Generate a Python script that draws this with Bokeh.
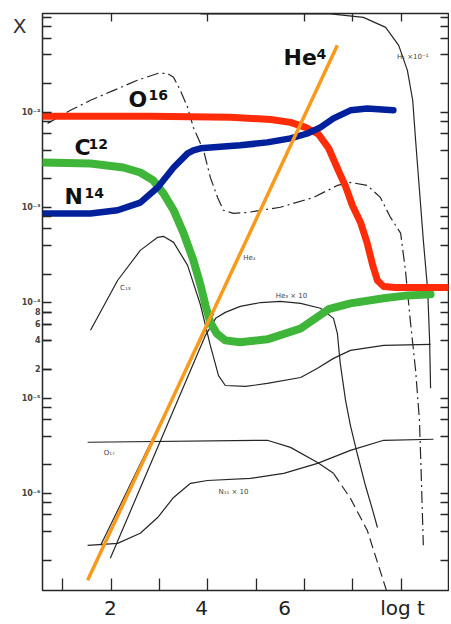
from bokeh.plotting import figure
from bokeh.models import FixedTicker, LogAxis, LinearAxis, Label
from bokeh.embed import file_html
from bokeh.resources import INLINE

# ---- data: log t  and  mass fraction X ----
o16_t = [0.58, 2.81, 4.47, 5.30, 5.71, 6.02, 6.29, 6.50, 6.70, 6.85, 6.99, 7.16, 7.30, 7.41, 7.51, 7.64, 7.88, 8.96]
o16_x = [9.1e-3, 9.1e-3, 8.9e-3, 8.4e-3, 7.85e-3, 6.95e-3, 5.9e-3, 4.2e-3, 2.46e-3, 1.67e-3, 1.06e-3, 7.0e-4,
         4.2e-4, 2.5e-4, 1.72e-4, 1.49e-4, 1.45e-4, 1.45e-4]

c12_t = [0.58, 1.57, 2.25, 2.60, 2.87, 3.08, 3.29, 3.49, 3.70, 3.85, 3.95, 4.05, 4.18, 4.36, 4.67, 5.23, 5.92,
         6.23, 6.50, 6.95, 7.64, 8.13, 8.61]
c12_x = [2.98e-3, 2.91e-3, 2.64e-3, 2.34e-3, 1.93e-3, 1.41e-3, 9.4e-4, 5.5e-4, 2.8e-4, 1.52e-4, 9.4e-5, 6.25e-5,
         4.8e-5, 4.05e-5, 3.86e-5, 4.15e-5, 5.4e-5, 6.9e-5, 8.6e-5, 9.9e-5, 1.12e-4, 1.20e-4, 1.23e-4]

n14_t = [0.58, 1.57, 2.13, 2.60, 2.96, 3.29, 3.58, 3.70, 3.85, 4.67, 5.23, 5.71, 6.06, 6.33, 6.60, 6.95, 7.30, 7.84]
n14_x = [8.7e-4, 8.7e-4, 9.4e-4, 1.13e-3, 1.63e-3, 2.64e-3, 3.71e-3, 3.99e-3, 4.19e-3, 4.51e-3, 4.84e-3, 5.33e-3,
         6.0e-3, 6.95e-3, 8.65e-3, 1.05e-2, 1.10e-2, 1.05e-2]

he4_t = [1.51, 6.68]
he4_x = [1.23e-7, 0.0505]

# thin curves of the original figure
h1_t = [3.85, 6.54, 7.22, 7.68, 7.95, 8.13, 8.24, 8.30, 8.38, 8.46, 8.55, 8.59, 8.61]
h1_x = [0.108, 0.108, 0.0993, 0.078, 0.0505, 0.0276, 0.0134, 5.1e-3, 1.52e-3, 4.54e-4, 1.36e-4, 4.05e-5, 1.27e-5]

f_t = [0.68, 1.155, 1.57, 2.05, 2.54, 2.96, 3.16, 3.29, 3.43, 3.58, 3.70, 3.91, 4.05, 4.20, 4.32, 4.53, 4.82,
       5.50, 6.19, 6.68, 6.95, 7.30, 7.57, 7.78, 7.99, 8.09, 8.19, 8.30, 8.38, 8.42, 8.46]
f_x = [7.66e-3, 1.05e-2, 1.34e-2, 1.70e-2, 2.17e-2, 2.56e-2, 2.56e-2, 2.33e-2, 1.70e-2, 1.13e-2, 6.95e-3, 3.99e-3,
       2.08e-3, 1.28e-3, 9.4e-4, 8.7e-4, 8.9e-4, 1.01e-3, 1.28e-3, 1.71e-3, 1.84e-3, 1.71e-3, 1.28e-3, 7.9e-4,
       5.4e-4, 2.19e-4, 6.56e-5, 1.96e-5, 5.86e-6, 1.37e-6, 2.86e-7]

he3_t = [1.98, 3.95, 4.16, 4.36, 4.67, 5.09, 5.50, 5.92, 6.33, 6.60, 6.68, 6.74, 6.85, 6.95, 7.10, 7.26, 7.41, 7.51]
he3_x = [2.09e-7, 4.57e-5, 6.89e-5, 7.96e-5, 9.2e-5, 1.01e-4, 1.04e-4, 9.9e-5, 8.8e-5, 6.89e-5, 4.80e-5, 2.32e-5,
         9.5e-6, 5.2e-6, 2.52e-6, 1.22e-6, 6.7e-7, 4.4e-7]

c13_t = [1.57, 2.13, 2.60, 2.96, 3.08, 3.29, 3.58, 3.85, 4.05, 4.22, 4.36, 4.78, 5.23, 5.92, 6.27, 6.60, 6.95, 7.64, 8.61]
c13_x = [5.16e-5, 1.72e-4, 3.56e-4, 4.88e-4, 5.0e-4, 4.32e-4, 2.48e-4, 9.4e-5, 3.59e-5, 1.73e-5, 1.36e-5, 1.33e-5,
         1.43e-5, 1.65e-5, 2.06e-5, 2.62e-5, 3.18e-5, 3.59e-5, 3.68e-5]

o17_t = [1.51, 5.23, 5.71, 6.27, 6.60]
o17_x = [3.45e-6, 3.62e-6, 3.05e-6, 2.12e-6, 1.63e-6]
o17d_t = [6.60, 6.95, 7.30, 7.72]
o17d_x = [1.63e-6, 8.9e-7, 4.1e-7, 8.8e-8]

n15_t = [1.51, 2.13, 2.60, 2.96, 3.29, 3.64, 3.99, 4.88, 5.57, 6.27, 6.95, 7.64, 8.67]
n15_x = [2.86e-7, 3.0e-7, 3.83e-7, 5.6e-7, 9.1e-7, 1.28e-6, 1.37e-6, 1.44e-6, 1.63e-6, 2.07e-6, 2.84e-6, 3.62e-6, 3.71e-6]

he4b_t = [1.78, 4.12]
he4b_x = [2.86e-7, 7.77e-5]

# ticks and labels
x_ticks = [1, 2, 3, 4, 5, 6, 7, 8]
x_top_ticks = [2, 4, 6, 7, 8]
x_label_pos = [1.98, 3.87, 5.59, 8.03]
x_label_text = ["2", "4", "6", "log t"]
y_major = [1e-6, 1e-5, 1e-4, 1e-3, 1e-2]
y_major_text = ["10\u207b\u2076", "10\u207b\u2075", "10\u207b\u2074", "10\u207b\u00b3", "10\u207b\u00b2"]
y_minor = [m * d for d in [1e-7, 1e-6, 1e-5, 1e-4, 1e-3, 1e-2] for m in (2, 4, 6, 8)] + [1e-1]
y_small_vals = [8e-5, 6e-5, 4e-5, 2e-5]
y_small_text = ["8", "6", "4", "2"]
axis_name = "X"
axis_name_y = 0.081

# labels
big_text = ["He", "O", "C", "N"]
big_t = [5.565, 2.356, 1.238, 1.031]
big_x = [0.0378, 0.01369, 4.24e-3, 1.298e-3]
sup_text = ["4", "16", "12", "14"]
sup_t = [6.25, 2.77, 1.53, 1.445]
sup_x = [0.0406, 0.01508, 4.67e-3, 1.413e-3]
small_text = ["H\u2081 \u00d710\u207b\u00b9", "He\u2084", "C\u2081\u2083", "He\u2083 \u00d7 10", "O\u2081\u2087", "N\u2081\u2085 \u00d7 10"]
small_t = [8.24, 4.86, 2.29, 5.73, 1.96, 4.53]
small_x = [0.0378, 2.94e-4, 1.42e-4, 1.17e-4, 2.64e-6, 1.05e-6]

INK = "#262626"

p = figure(width=449, height=624, x_range=(0.576, 8.981), y_range=(9.6e-8, 0.109),
           y_axis_type="log", output_backend="svg", toolbar_location=None,
           min_border_left=42, min_border_right=1, min_border_top=13, min_border_bottom=34)
p.xgrid.visible = False
p.ygrid.visible = False
p.outline_line_color = INK
p.outline_line_width = 1.5
p.background_fill_color = "white"
p.border_fill_color = "white"

# bottom axis: integer tick marks inward, labels at their printed places
xa = p.below[0]
xa.ticker = FixedTicker(ticks=x_label_pos, minor_ticks=x_ticks)
xa.major_label_overrides = dict(zip(x_label_pos, x_label_text))
xa.major_label_text_font = "DejaVu Sans"
xa.major_label_text_font_size = "20px"
xa.major_label_text_color = "#222222"
xa.major_label_standoff = 5
xa.major_tick_in = 0
xa.major_tick_out = 0
xa.minor_tick_in = 12
xa.minor_tick_out = 0
xa.axis_line_color = None
xa.minor_tick_line_color = INK
xa.minor_tick_line_width = 1.3

# left axis
left_ticks = y_major + y_small_vals
left_text = y_major_text + y_small_text
ya = p.left[0]
ya.ticker = FixedTicker(ticks=left_ticks, minor_ticks=y_minor)
ya.major_label_overrides = dict(zip(left_ticks, left_text))
ya.major_label_text_font = "DejaVu Sans"
ya.major_label_text_font_size = "8px"
ya.major_label_text_font_style = "bold"
ya.major_label_text_color = "#444444"
ya.major_label_standoff = 2
ya.major_tick_in = 9
ya.major_tick_out = 0
ya.minor_tick_in = 9
ya.minor_tick_out = 0
ya.axis_line_color = None
ya.major_tick_line_color = INK
ya.minor_tick_line_color = INK
ya.major_tick_line_width = 1.3
ya.minor_tick_line_width = 1.3

# axis name "X" at the top of the left side
na = LogAxis(ticker=FixedTicker(ticks=[axis_name_y]), major_label_overrides={axis_name_y: axis_name},
             major_label_text_font="DejaVu Sans", major_label_text_font_size="20px",
             major_label_text_color="#333333", major_label_standoff=-8,
             major_tick_in=0, major_tick_out=0, minor_tick_in=0, minor_tick_out=0,
             axis_line_color=None)
p.add_layout(na, "left")

# right axis
ra = LogAxis(ticker=FixedTicker(ticks=[], minor_ticks=y_major + y_minor),
             major_tick_in=0, major_tick_out=0, minor_tick_in=8, minor_tick_out=0,
             axis_line_color=None, minor_tick_line_color=INK, minor_tick_line_width=1.3)
p.add_layout(ra, "right")

# top axis
ta = LinearAxis(ticker=FixedTicker(ticks=[], minor_ticks=x_top_ticks),
                major_tick_in=0, major_tick_out=0, minor_tick_in=8, minor_tick_out=0,
                axis_line_color=None, minor_tick_line_color=INK, minor_tick_line_width=1.3)
p.add_layout(ta, "above")

# thin original curves
thin = dict(line_color=INK, line_width=1.2)
p.line(h1_t, h1_x, **thin)
p.line(f_t, f_x, line_dash="12 4 2 4", **thin)
p.line(he3_t, he3_x, **thin)
p.line(c13_t, c13_x, **thin)
p.line(o17_t, o17_x, **thin)
p.line(o17d_t, o17d_x, line_dash="10 5", **thin)
p.line(n15_t, n15_x, **thin)
p.line(he4b_t, he4b_x, **thin)

# highlighted curves
p.line(c12_t, c12_x, line_color="#3fb53a", line_width=8, line_cap="round", line_join="round")
p.line(o16_t, o16_x, line_color="#fe2c08", line_width=7, line_cap="round", line_join="round")
p.line(n14_t, n14_x, line_color="#00209c", line_width=6.5, line_cap="round", line_join="round")
p.line(he4_t, he4_x, line_color="#f99a1c", line_width=3.5)

# labels inside the plot
for s, t, x in zip(big_text, big_t, big_x):
    p.add_layout(Label(x=t, y=x, text=s, text_font="DejaVu Sans", text_font_style="bold",
                       text_font_size="22px", text_color="#111111",
                       text_align="left", text_baseline="middle"))
for s, t, x in zip(sup_text, sup_t, sup_x):
    p.add_layout(Label(x=t, y=x, text=s, text_font="DejaVu Sans", text_font_style="bold",
                       text_font_size="14px", text_color="#111111",
                       text_align="left", text_baseline="middle"))
for s, t, x in zip(small_text, small_t, small_x):
    p.add_layout(Label(x=t, y=x, text=s, text_font="DejaVu Sans", text_font_size="7px",
                       text_color="#444444", text_align="center", text_baseline="middle"))

open("out.html", "w").write(file_html(p, INLINE))
